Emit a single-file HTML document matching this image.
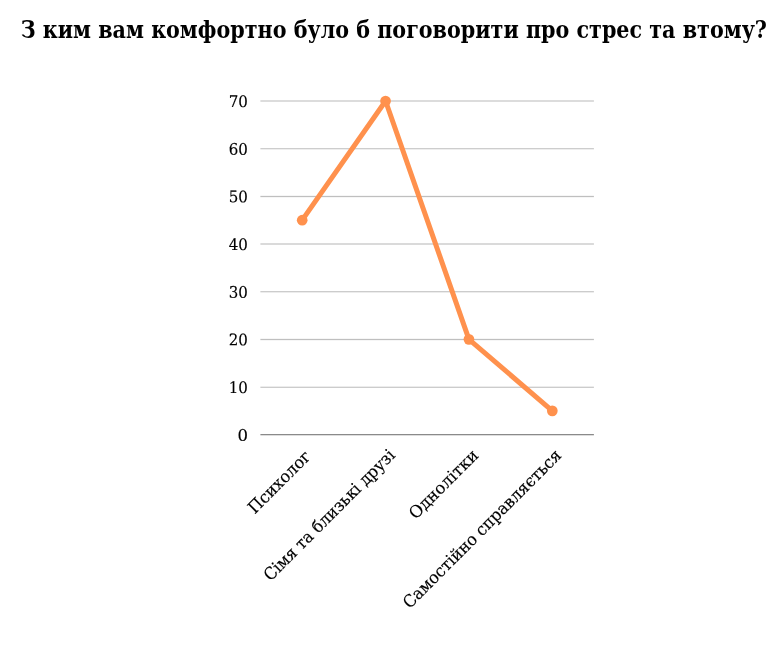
<!DOCTYPE html>
<html lang="uk">
<head>
<meta charset="utf-8">
<title>З ким вам комфортно було б поговорити про стрес та втому?</title>
<style>
html,body{margin:0;padding:0;background:#fff;}
body{width:783px;height:649px;overflow:hidden;}
svg{display:block;}
text{font-family:"DejaVu Serif", "Liberation Serif", serif;fill:#000;}
.title{font-weight:bold;font-size:24px;}
.lbl{font-size:16px;stroke:#000;stroke-width:0.15px;}
.xl{font-size:16.8px;stroke:#000;stroke-width:0.15px;}
</style>
</head>
<body>
<svg width="783" height="649" viewBox="0 0 783 649">
<rect x="0" y="0" width="783" height="649" fill="#ffffff"/>
<text class="title" x="20.7" y="38" textLength="746.3" lengthAdjust="spacingAndGlyphs">З ким вам комфортно було б поговорити про стрес та втому?</text>
<rect x="260.4" y="100" width="333.5" height="1" fill="#dcdcdc"/>
<rect x="260.4" y="101" width="333.5" height="1" fill="#dcdcdc"/>
<rect x="260.4" y="148" width="333.5" height="1" fill="#cdcdcd"/>
<rect x="260.4" y="149" width="333.5" height="1" fill="#eeeeee"/>
<rect x="260.4" y="195" width="333.5" height="1" fill="#f6f6f6"/>
<rect x="260.4" y="196" width="333.5" height="1" fill="#bfbfbf"/>
<rect x="260.4" y="197" width="333.5" height="1" fill="#f6f6f6"/>
<rect x="260.4" y="243" width="333.5" height="1" fill="#dadada"/>
<rect x="260.4" y="244" width="333.5" height="1" fill="#dadada"/>
<rect x="260.4" y="291" width="333.5" height="1" fill="#cccccc"/>
<rect x="260.4" y="292" width="333.5" height="1" fill="#ececec"/>
<rect x="260.4" y="338" width="333.5" height="1" fill="#f6f6f6"/>
<rect x="260.4" y="339" width="333.5" height="1" fill="#bfbfbf"/>
<rect x="260.4" y="340" width="333.5" height="1" fill="#f6f6f6"/>
<rect x="260.4" y="386" width="333.5" height="1" fill="#ececec"/>
<rect x="260.4" y="387" width="333.5" height="1" fill="#cccccc"/>
<rect x="260.4" y="434" width="333.5" height="1" fill="#8a8a8a"/>
<rect x="260.4" y="435" width="333.5" height="1" fill="#dddddd"/>
<text class="lbl" transform="translate(228.80,107.00) rotate(0.05)" x="0" y="0" textLength="19.1" lengthAdjust="spacingAndGlyphs">70</text>
<text class="lbl" transform="translate(228.80,154.67) rotate(0.05)" x="0" y="0" textLength="19.1" lengthAdjust="spacingAndGlyphs">60</text>
<text class="lbl" transform="translate(228.80,202.34) rotate(0.05)" x="0" y="0" textLength="19.1" lengthAdjust="spacingAndGlyphs">50</text>
<text class="lbl" transform="translate(228.80,250.01) rotate(0.05)" x="0" y="0" textLength="19.1" lengthAdjust="spacingAndGlyphs">40</text>
<text class="lbl" transform="translate(228.80,297.69) rotate(0.05)" x="0" y="0" textLength="19.1" lengthAdjust="spacingAndGlyphs">30</text>
<text class="lbl" transform="translate(228.80,345.36) rotate(0.05)" x="0" y="0" textLength="19.1" lengthAdjust="spacingAndGlyphs">20</text>
<text class="lbl" transform="translate(228.80,393.03) rotate(0.05)" x="0" y="0" textLength="19.1" lengthAdjust="spacingAndGlyphs">10</text>
<text class="lbl" transform="translate(237.40,440.70) rotate(0.05)" x="0" y="0" textLength="10.5" lengthAdjust="spacingAndGlyphs">0</text>
<polyline points="302.19,220.18 385.56,101.00 468.94,339.36 552.31,410.86" fill="none" stroke="#ff914d" stroke-width="5" stroke-linejoin="round" stroke-linecap="round"/>
<circle cx="302.19" cy="220.18" r="5.35" fill="#ff914d"/>
<circle cx="385.56" cy="101.00" r="5.35" fill="#ff914d"/>
<circle cx="468.94" cy="339.36" r="5.35" fill="#ff914d"/>
<circle cx="552.31" cy="410.86" r="5.35" fill="#ff914d"/>
<text class="xl" transform="translate(311.74,457.59) rotate(-45)" x="-80.49" y="0" textLength="80.49" lengthAdjust="spacingAndGlyphs">Психолог</text>
<text class="xl" transform="translate(395.97,456.28) rotate(-45)" x="-177.51" y="0" textLength="177.51" lengthAdjust="spacingAndGlyphs">Сімя та близькі друзі</text>
<text class="xl" transform="translate(479.48,456.38) rotate(-45)" x="-90.13" y="0" textLength="90.13" lengthAdjust="spacingAndGlyphs">Однолітки</text>
<text class="xl" transform="translate(562.46,456.48) rotate(-45)" x="-216.05" y="0" textLength="216.05" lengthAdjust="spacingAndGlyphs">Самостійно справляється</text>
</svg>
</body>
</html>
